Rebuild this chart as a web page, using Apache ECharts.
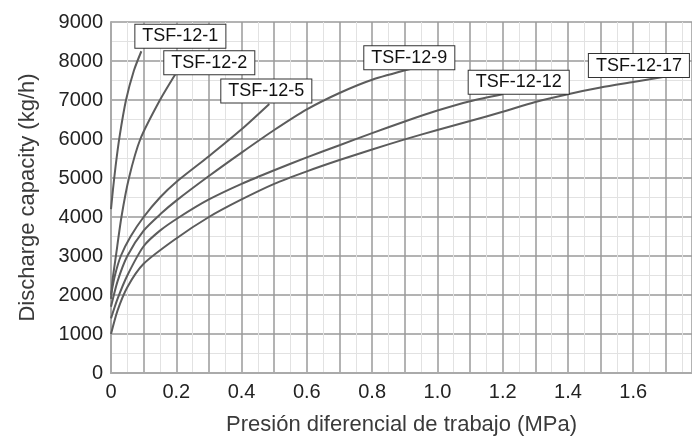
<!DOCTYPE html>
<html>
<head>
<meta charset="utf-8">
<script src="https://cdn.jsdelivr.net/npm/echarts@6/dist/echarts.min.js"></script>
<style>
html,body{margin:0;padding:0;background:#fff;}
#chart{width:692px;height:441px;}
</style>
</head>
<body>
<div id="chart"></div>
<script>
// Data: [pressure MPa, capacity kg/h]
const seriesNames = ['TSF-12-1','TSF-12-2','TSF-12-5','TSF-12-9','TSF-12-12','TSF-12-17'];
const tsf1 = [[0,4200],[0.006,4700],[0.014,5300],[0.026,6050],[0.046,7000],[0.07,7750],[0.093,8250]];
const tsf2 = [[0,1900],[0.005,2400],[0.015,3000],[0.032,4000],[0.055,5000],[0.09,6000],[0.15,7000],[0.2,7700]];
const tsf5 = [[0,2000],[0.012,2500],[0.03,3000],[0.06,3500],[0.1,4000],[0.15,4500],[0.2,4900],[0.3,5560],[0.4,6250],[0.485,6900]];
const tsf9 = [[0,1700],[0.02,2350],[0.05,3000],[0.1,3650],[0.155,4100],[0.2,4420],[0.3,5050],[0.4,5650],[0.5,6230],[0.6,6760],[0.7,7180],[0.8,7520],[0.92,7800]];
const tsf12 = [[0,1400],[0.02,1900],[0.05,2500],[0.1,3250],[0.15,3650],[0.21,4000],[0.3,4450],[0.4,4850],[0.5,5200],[0.6,5530],[0.7,5840],[0.8,6150],[0.9,6450],[1.0,6730],[1.1,6970],[1.2,7150]];
const tsf17 = [[0,1000],[0.02,1600],[0.05,2200],[0.1,2800],[0.2,3450],[0.3,4000],[0.4,4450],[0.5,4850],[0.6,5170],[0.7,5460],[0.8,5730],[0.9,5990],[1.0,6230],[1.1,6460],[1.2,6700],[1.3,6950],[1.4,7150],[1.5,7320],[1.6,7460],[1.7,7600]];
const seriesData = [tsf1, tsf2, tsf5, tsf9, tsf12, tsf17];
// label box offsets relative to each curve end
const labelOffsets = [[-11,-15],[-17,-10],[-53,-13],[-52,-11],[-39,-12],[-82,-11]];

const FONT = '"Liberation Sans", Arial, Helvetica, sans-serif';
const chart = echarts.init(document.getElementById('chart'), null, {renderer:'canvas'});

const series = seriesNames.map((name, i) => ({
  name: name,
  type: 'line',
  data: seriesData[i],
  smooth: 0.25,
  showSymbol: false,
  symbol: 'none',
  lineStyle: {color: '#5c5c5c', width: 2},
  z: 5,
  endLabel: {
    show: true,
    formatter: name,
    color: '#111',
    fontFamily: FONT,
    fontSize: 18,
    backgroundColor: '#fff',
    borderColor: '#333',
    borderWidth: 1,
    padding: [3, 7, 2, 7],
    align: 'left',
    verticalAlign: 'middle',
    distance: 5,
    offset: labelOffsets[i]
  }
}));

chart.setOption({
  animation: false,
  backgroundColor: '#fff',
  grid: {left: 111, right: 0, top: 22, bottom: 68, containLabel: false},
  xAxis: {
    type: 'value',
    min: 0,
    max: 1.78,
    interval: 0.1,
    name: 'Presión diferencial de trabajo (MPa)',
    nameLocation: 'middle',
    nameGap: 41,
    nameTextStyle: {fontFamily: FONT, fontSize: 22, color: '#3a3a3a', verticalAlign: 'top'},
    axisLine: {show: true, lineStyle: {color: '#aaa', width: 2}},
    axisTick: {show: false},
    axisLabel: {
      showMaxLabel: false,
      margin: 9,
      fontFamily: FONT, fontSize: 20, color: '#222',
      formatter: function (v) {
        const t = Math.round(v * 10);
        if (t % 2 !== 0) return '';
        return t === 0 ? '0' : (t / 10).toFixed(1);
      }
    },
    splitLine: {show: true, lineStyle: {color: '#9a9a9a', width: 1.5}},
    minorTick: {show: false, splitNumber: 2},
    minorSplitLine: {show: true, lineStyle: {color: '#e2e2e2', width: 1}}
  },
  yAxis: {
    type: 'value',
    min: 0,
    max: 9000,
    interval: 1000,
    name: 'Discharge capacity (kg/h)',
    nameLocation: 'middle',
    nameRotate: 90,
    nameGap: 72,
    nameTextStyle: {fontFamily: FONT, fontSize: 22, color: '#3a3a3a'},
    axisLine: {show: true, lineStyle: {color: '#aaa', width: 2}},
    axisTick: {show: false},
    axisLabel: {
      margin: 8, fontFamily: FONT, fontSize: 20, color: '#222',
      formatter: function (v) { return String(v); }
    },
    splitLine: {show: true, lineStyle: {color: '#9a9a9a', width: 1.5}},
    minorTick: {show: false, splitNumber: 2},
    minorSplitLine: {show: true, lineStyle: {color: '#e2e2e2', width: 1}}
  },
  series: series
});
</script>
</body>
</html>
